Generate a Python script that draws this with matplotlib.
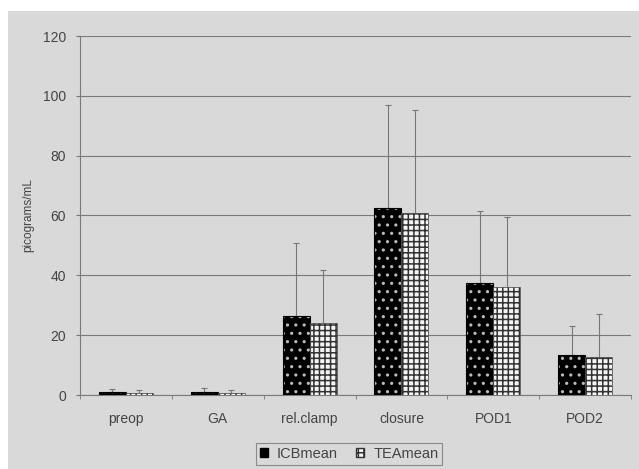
import matplotlib
matplotlib.use("Agg")
import matplotlib.pyplot as plt
from matplotlib.patches import Rectangle, Patch
import numpy as np

categories = ['preop', 'GA', 'rel.clamp', 'closure', 'POD1', 'POD2']
icb_mean = [1.0, 1.0, 26.4, 62.5, 37.5, 13.4]
tea_mean = [0.8, 0.8, 24.0, 60.8, 36.1, 12.8]
icb_sd = [1.0, 1.2, 24.4, 34.5, 24.0, 9.6]
tea_sd = [0.8, 0.8, 17.8, 34.5, 23.4, 14.2]
yticks = [0, 20, 40, 60, 80, 100, 120]

bg = '#d9d9d9'
txt = '#444444'

plt.rcParams['font.family'] = ['Liberation Sans', 'DejaVu Sans']
plt.rcParams['hatch.linewidth'] = 1.1

fig = plt.figure(figsize=(6.39, 4.69), dpi=100, facecolor=bg)
# white scan border at top and left
fig.patches.append(Rectangle((0, 1 - 11 / 469), 1, 11 / 469, transform=fig.transFigure,
                             facecolor='white', edgecolor='none', zorder=-10))
fig.patches.append(Rectangle((0, 0), 8 / 639, 1, transform=fig.transFigure,
                             facecolor='white', edgecolor='none', zorder=-10))

ax = fig.add_axes([80 / 639, 1 - 395 / 469, 551 / 639, 359 / 469])
ax.set_facecolor('none')

x = np.arange(len(categories))
w = 0.294

# ICB: black with light dots
ax.bar(x - w / 2, icb_mean, w, color='black', edgecolor='#bbbbbb', hatch='..', linewidth=0, zorder=3)
ax.bar(x - w / 2, icb_mean, w, fill=False, edgecolor='black', linewidth=0.8, zorder=4)
# TEA: light brick pattern
ax.bar(x + w / 2, tea_mean, w, color='#f4f4f4', edgecolor='#333333', hatch='+++', linewidth=0, zorder=3)
ax.bar(x + w / 2, tea_mean, w, fill=False, edgecolor='#555555', linewidth=0.6, zorder=4)

ax.errorbar(x - w / 2, icb_mean, yerr=[np.zeros(len(x)), icb_sd], fmt='none',
            ecolor='#777777', elinewidth=0.8, capsize=2.5, capthick=0.8, zorder=2)
ax.errorbar(x + w / 2, tea_mean, yerr=[np.zeros(len(x)), tea_sd], fmt='none',
            ecolor='#777777', elinewidth=0.8, capsize=2.5, capthick=0.8, zorder=2)

ax.set_xlim(-0.5, len(categories) - 0.5)
ax.set_ylim(0, 120)
ax.set_yticks(yticks)
ax.set_yticklabels([str(v) for v in yticks], fontsize=10, color=txt)
ax.set_xticks(x)
ax.set_xticklabels(categories, fontsize=10, color=txt)
ax.set_xticks(np.arange(len(categories) + 1) - 0.5, minor=True)
ax.tick_params(axis='x', which='major', length=0, pad=12)
ax.tick_params(axis='x', which='minor', length=3, color='#777777', direction='out')
ax.tick_params(axis='y', length=3, color='#777777', pad=7)

ax.grid(axis='y', color='#7a7a7a', linewidth=0.8, zorder=1)
ax.set_axisbelow(True)
for s in ['top', 'right']:
    ax.spines[s].set_visible(False)
for s in ['left', 'bottom']:
    ax.spines[s].set_color('#7a7a7a')
    ax.spines[s].set_linewidth(0.8)

ax.set_ylabel('picograms/mL', fontsize=8.5, color=txt, labelpad=6)

handles = [Patch(facecolor='black', edgecolor='black'),
           Patch(facecolor='#f4f4f4', edgecolor='#333333', hatch='+++')]
leg = fig.legend(handles, ['ICBmean', 'TEAmean'], loc='center', ncol=2,
                 bbox_to_anchor=(349 / 639, 1 - 454 / 469), fontsize=10.5,
                 frameon=True, fancybox=False, edgecolor='#777777', facecolor=bg,
                 handlelength=0.55, handleheight=0.55, handletextpad=0.6, columnspacing=1.3,
                 borderpad=0.25, borderaxespad=0.3)
for t in leg.get_texts():
    t.set_color(txt)
leg.get_frame().set_linewidth(0.8)

fig.savefig('out.png', dpi=100, facecolor=bg)
